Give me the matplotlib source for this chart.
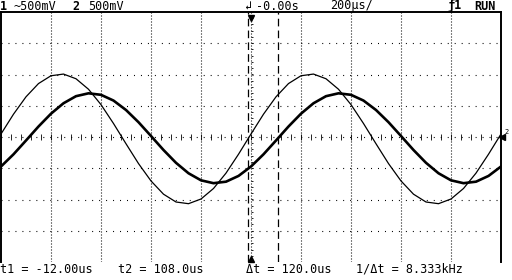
import numpy as np
import matplotlib
matplotlib.use("Agg")
import matplotlib.pyplot as plt

plt.rcParams['lines.scale_dashes'] = False
plt.rcParams['font.family'] = ['DejaVu Sans Mono', 'DejaVu Sans']

# time axis (microseconds), 200 us/div, 10 divisions
time_us = np.arange(-1000, 1001, 50)

# channel 1 (thin trace), volts, 500 mV/div
ch1_v = [0.048, 0.365, 0.643, 0.855, 0.980, 1.007, 0.932, 0.764, 0.518, 0.216,
         -0.108, -0.425, -0.703, -0.915, -1.040, -1.067, -0.992, -0.824, -0.578, -0.276,
         0.048, 0.365, 0.643, 0.855, 0.980, 1.007, 0.932, 0.764, 0.518, 0.216,
         -0.108, -0.425, -0.703, -0.915, -1.040, -1.067, -0.992, -0.824, -0.578, -0.276,
         0.048]
# channel 2 (thick trace), volts, 500 mV/div
ch2_v = [-0.472, -0.277, -0.056, 0.168, 0.373, 0.540, 0.653, 0.699, 0.675, 0.583,
         0.432, 0.237, 0.016, -0.208, -0.413, -0.580, -0.693, -0.739, -0.715, -0.623,
         -0.472, -0.277, -0.056, 0.168, 0.373, 0.540, 0.653, 0.699, 0.675, 0.583,
         0.432, 0.237, 0.016, -0.208, -0.413, -0.580, -0.693, -0.739, -0.715, -0.623,
         -0.472]

cursor_t1 = -12.0
cursor_t2 = 108.0

header_left = [("1", True, 0), ("~500mV", False, 13), ("2", True, 72), ("500mV", False, 88)]
header_mid = [("↲", False, 245), ("-0.00s", False, 256), ("200µs/", False, 330)]
header_right = [("ƒ1", True, 447), ("RUN", True, 474)]
footer = [("t1 = -12.00us", 0), ("t2 = 108.0us", 118), ("Δt = 120.0us", 246), ("1/Δt = 8.333kHz", 356)]

W, H = 512, 280
fig = plt.figure(figsize=(W / 100, H / 100), dpi=100)
fig.patch.set_facecolor('white')

left, right, top, bottom = 1, 501, 12, 262
ax = fig.add_axes([left / W, 1 - bottom / H, (right - left) / W, (bottom - top) / H])
ax.set_xlim(-1000, 1000)
ax.set_ylim(-2, 2)
ax.set_xticks([]); ax.set_yticks([])
for s in ['left', 'top', 'right']:
    ax.spines[s].set_linewidth(1.4)
    ax.spines[s].set_color('black')
ax.spines['bottom'].set_visible(False)

# grid dots
for x in range(-800, 801, 200):
    if x == 0:
        continue
    ax.axvline(x, color='black', lw=0.8, ls=(0, (0.72, 1.44)))
for y in np.arange(-1.5, 1.51, 0.5):
    if abs(y) < 1e-9:
        continue
    ax.axhline(y, color='black', lw=0.8, ls=(0, (0.72, 4.3)))

# center axes with ticks
ax.axhline(0, color='black', lw=0.8, ls=(0, (0.72, 4.3)))
ax.vlines(np.arange(-1000, 1001, 40), -0.05, 0.05, color='black', lw=0.6)
ax.axvline(0, color='black', lw=0.8, ls=(0, (0.72, 1.44)))
ax.hlines(np.arange(-2, 2.01, 0.1), 0, 8, color='black', lw=0.6)

# cursors
ax.axvline(cursor_t1, color='black', lw=0.9, ls=(0, (5.5, 3)))
ax.axvline(cursor_t2, color='black', lw=0.9, ls=(0, (5.5, 3)))

# traces
ax.plot(time_us, ch1_v, color='black', lw=0.9)
ax.plot(time_us, ch2_v, color='black', lw=1.9)

# trigger markers
ax.plot([0], [1.9], marker='v', color='black', ms=5, clip_on=False)
ax.plot([0], [-1.95], marker='^', color='black', ms=5, clip_on=False)
ax.plot([1005], [0.0], marker='<', color='black', ms=5, clip_on=False)
fig.text(504 / W, 1 - 132 / H, "2", fontsize=5, va='center', ha='left')

def put(txt, x, y, bold=False):
    fig.text(x / W, 1 - y / H, txt, fontsize=8.5, ha='left', va='baseline',
             fontweight='bold' if bold else 'normal', color='black')

for txt, b, x in header_left + header_mid + header_right:
    put(txt, x, 9.5, b)
for txt, x in footer:
    put(txt, x, 273)

fig.savefig('out.png', dpi=100, facecolor='white')
